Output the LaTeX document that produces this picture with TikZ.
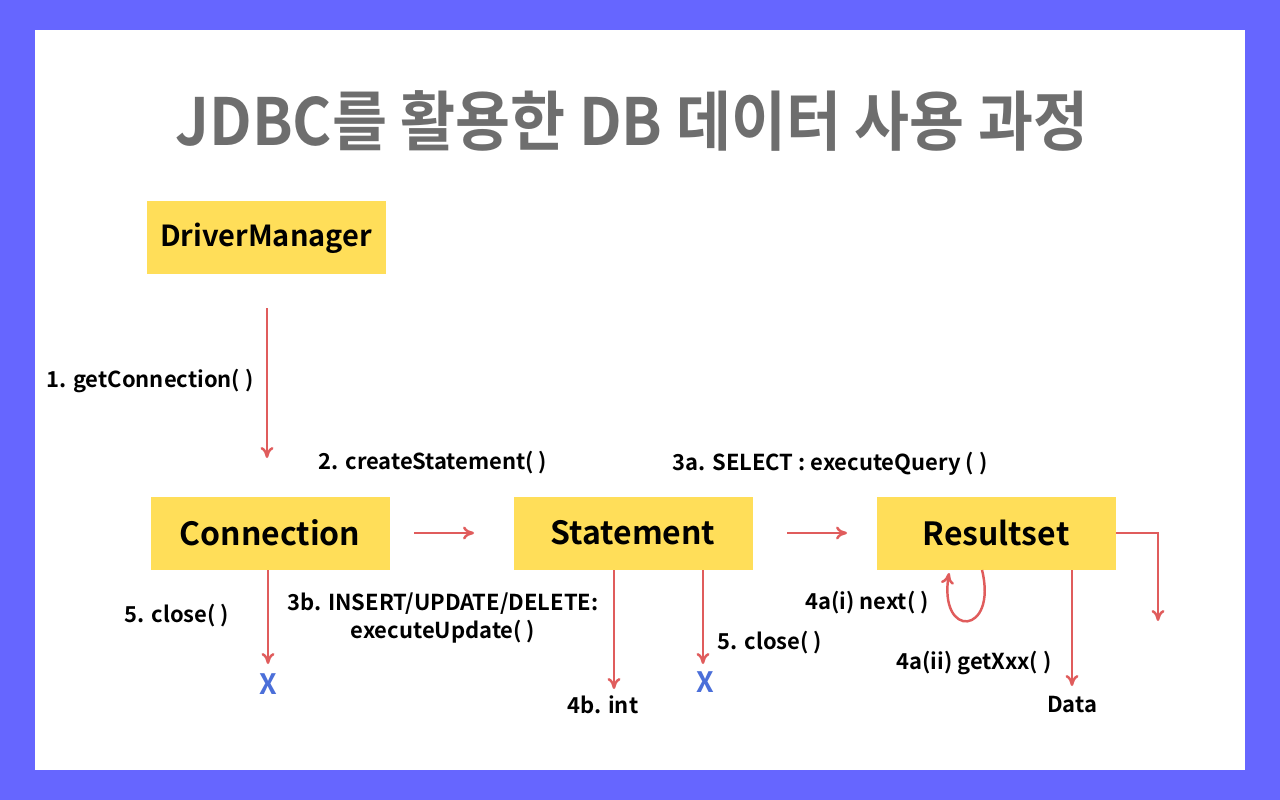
\documentclass[tikz,border=0pt]{standalone}
\usepackage{fontspec}
\setmainfont{Noto Sans CJK KR}[BoldFont={Noto Sans CJK KR Bold}]
\newfontfamily\titlefont[FakeStretch=0.92]{Noto Sans CJK KR Bold}
\usetikzlibrary{arrows.meta,positioning}
\definecolor{bgblue}{HTML}{6666FF}
\definecolor{boxyellow}{HTML}{FFDE59}
\definecolor{arrred}{HTML}{E05C5C}
\definecolor{xblue}{HTML}{4B6FD9}
\definecolor{titlegray}{HTML}{6E6E6E}
\begin{document}
\begin{tikzpicture}[
  x=0.02cm,y=-0.02cm,
  box/.style={fill=boxyellow,minimum width=239*0.02cm,minimum height=73*0.02cm,inner sep=0pt,font=\fontsize{18.2}{22}\selectfont\bfseries},
  lbl/.style={font=\fontsize{12.5}{15.5}\selectfont\bfseries,align=center,inner sep=1pt},
  endmark/.style={text=xblue,font=\fontsize{16}{18}\selectfont\bfseries,inner sep=0pt},
  arr/.style={-{To[length=2.2mm,width=2.6mm]},arrred,line width=1.4pt}
]
\fill[bgblue] (0,0) rectangle (1280,800);
\fill[white] (35,30) rectangle (1245,770);
\useasboundingbox (0,0) rectangle (1280,800);
% title
\node[text=titlegray,font=\fontsize{37}{42}\titlefont] (title) at (632,121) {JDBC를 활용한 DB 데이터 사용 과정};
% boxes
\node[box,font=\fontsize{16.5}{20}\selectfont\bfseries] (dm) at (266,238) {DriverManager};
\node[box] (conn) at (270,533) {Connection};
\node[box] (stmt) at (633,533) {Statement};
\node[box] (rs) at (996,533) {Resultset};
% ends
\node[endmark] (cx) at (268,684) {X};
\node[endmark] (sx) at (705,682) {X};
\node[lbl] (int) at (603,705) {4b. int};
\node[lbl] (data) at (1072,705) {Data};
% labels
\node[lbl] (l1) at (150,381) {1. getConnection( )};
\node[lbl] (l2) at (433,463) {2. createStatement( )};
\node[lbl] (l3a) at (830,464) {3a. SELECT : executeQuery ( )};
\node[lbl] (l5a) at (177,616) {5. close( )};
\node[lbl] (l3b) at (443,618) {3b. INSERT/UPDATE/DELETE:\\executeUpdate( )};
\node[lbl] (l5b) at (770,643) {5. close( )};
\node[lbl] (l4a) at (867,603) {4a(i) next( )};
\node[lbl] (l4b) at (974,663) {4a(ii) getXxx( )};
% connector ends
\coordinate (dmA) at (267,308);
\coordinate (dmB) at (267,458);
\coordinate (csA) at (414,533);
\coordinate (csB) at (474,533);
\coordinate (srA) at (787,533);
\coordinate (srB) at (847,533);
\coordinate (ccA) at (268,570);
\coordinate (ccB) at (268,664);
\coordinate (siA) at (614,570);
\coordinate (siB) at (614,689);
\coordinate (scA) at (703,570);
\coordinate (scB) at (703,664);
\coordinate (loA) at (982,570);
\coordinate (loB) at (949,573);
\coordinate (rdA) at (1072,570);
\coordinate (rdB) at (1072,686);
\coordinate (rrB) at (1158,621);
% arrows
\draw[arr] (dmA) -- (dmB);
\draw[arr] (csA) -- (csB);
\draw[arr] (srA) -- (srB);
\draw[arr] (ccA) -- (ccB);
\draw[arr] (siA) -- (siB);
\draw[arr] (scA) -- (scB);
\draw[arr] (loA) .. controls (998,635) and (938,640) .. (loB);
\draw[arr] (rdA) -- (rdB);
\draw[arr] (rs.east) -| (rrB);
\end{tikzpicture}
\end{document}
